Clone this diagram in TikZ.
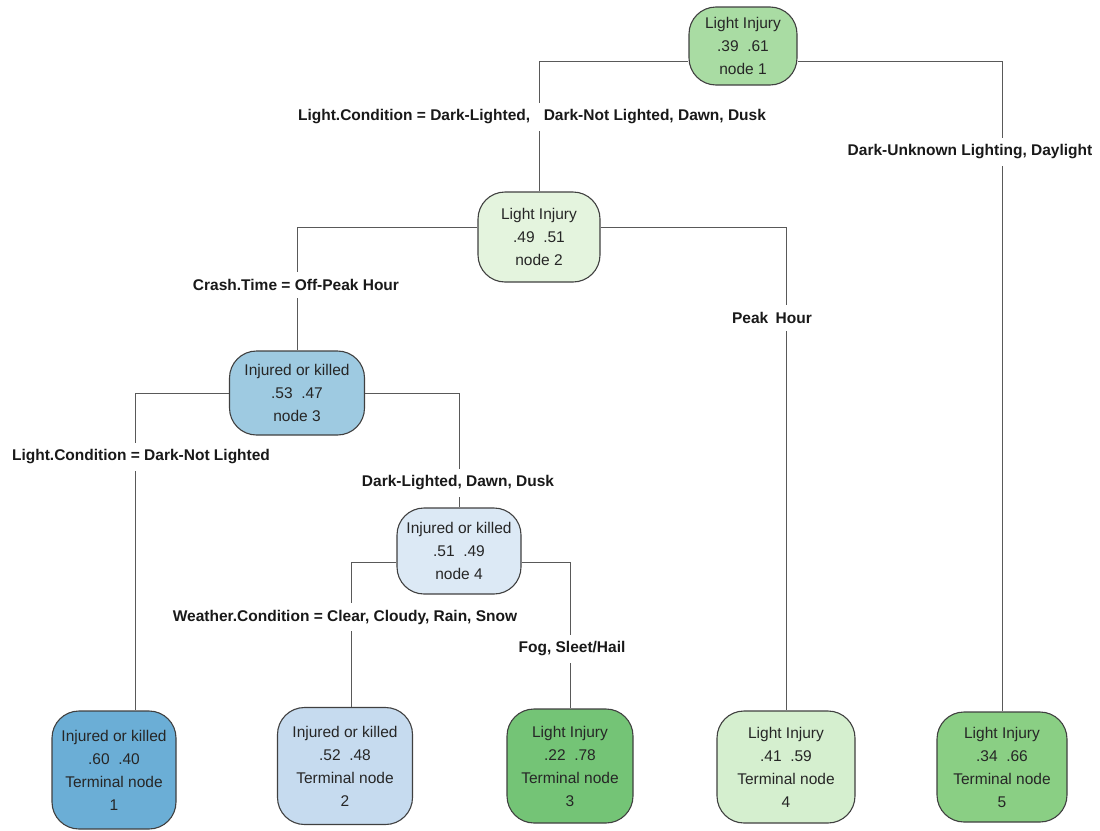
\documentclass[tikz,border=0pt]{standalone}
\usepackage{fontspec}
\setmainfont{Liberation Sans}
\definecolor{rootgreen}{HTML}{A9DCA3}
\definecolor{palegreen}{HTML}{E4F4DE}
\definecolor{midblue}{HTML}{9ECAE1}
\definecolor{paleblue}{HTML}{DCE9F5}
\definecolor{deepblue}{HTML}{6BAED6}
\definecolor{softblue}{HTML}{C6DBEF}
\definecolor{deepgreen}{HTML}{74C476}
\definecolor{softgreen}{HTML}{D5EFCF}
\definecolor{leafgreen}{HTML}{8ACF84}

\begin{document}
\begin{tikzpicture}[x=1pt, y=-1pt,
    box/.style={draw=black!75, line width=1.1pt, rounded corners=27pt, align=center,
        text=black!85, font=\fontsize{15.5}{23}\selectfont, inner sep=2pt},
    cut/.style={fill=white, font=\bfseries\fontsize{15.5}{18}\selectfont, text=black!90,
        inner xsep=3pt, inner ysep=7pt},
    branch/.style={draw=black!65, line width=0.9pt}]
    \useasboundingbox (0,0) rectangle (1100,830);

    % Split nodes
    \node[box, fill=rootgreen, minimum width=108pt, minimum height=78pt] (n1) at (743,46) {Light Injury\\.39~~.61\\node 1};
    \node[box, fill=palegreen, minimum width=122pt, minimum height=90pt] (n2) at (539,237) {Light Injury\\.49~~.51\\node 2};
    \node[box, fill=midblue, minimum width=135pt, minimum height=84pt] (n3) at (297,393) {Injured or killed\\.53~~.47\\node 3};
    \node[box, fill=paleblue, minimum width=124pt, minimum height=86pt] (n4) at (459,551) {Injured or killed\\.51~~.49\\node 4};

    % Terminal nodes
    \node[box, fill=deepblue, minimum width=124pt, minimum height=118pt] (t1) at (114,770) {Injured or killed\\.60~~.40\\Terminal node\\1};
    \node[box, fill=softblue, minimum width=135pt, minimum height=117pt] (t2) at (345,766) {Injured or killed\\.52~~.48\\Terminal node\\2};
    \node[box, fill=deepgreen, minimum width=126pt, minimum height=114pt] (t3) at (570,766) {Light Injury\\.22~~.78\\Terminal node\\3};
    \node[box, fill=softgreen, minimum width=138pt, minimum height=112pt] (t4) at (786,767) {Light Injury\\.41~~.59\\Terminal node\\4};
    \node[box, fill=leafgreen, minimum width=130pt, minimum height=110pt] (t5) at (1002,767) {Light Injury\\.34~~.66\\Terminal node\\5};

    % Branches
    \draw[branch] ([yshift=-15pt]n1.west) -| (n2.north);
    \draw[branch] ([yshift=-15pt]n1.east) -| (t5.north);
    \draw[branch] ([yshift=10pt]n2.west) -| (n3.north);
    \draw[branch] ([yshift=10pt]n2.east) -| (t4.north);
    \draw[branch] (n3.west) -| ([xshift=21pt]t1.north);
    \draw[branch] (n3.east) -| (n4.north);
    \draw[branch] ([yshift=-11pt]n4.west) -| ([xshift=6pt]t2.north);
    \draw[branch] ([yshift=-11pt]n4.east) -| (t3.north);

    % Split rules
    \node[cut] (c1) at (532,117) {Light.Condition = Dark-Lighted,\hspace{0.6em} Dark-Not Lighted, Dawn, Dusk};
    \node[cut] (c2) at (970,152) {Dark-Unknown Lighting, Daylight};
    \node[cut] (c3) at (296,285) {Crash.Time = Off-Peak Hour};
    \node[cut] (c4) at (772,318) {Peak\hspace{0.2em} Hour};
    \node[cut] (c5) at (141,457) {Light.Condition = Dark-Not Lighted};
    \node[cut] (c6) at (458,483) {Dark-Lighted, Dawn, Dusk};
    \node[cut] (c7) at (345,617) {Weather.Condition = Clear, Cloudy, Rain, Snow};
    \node[cut] (c8) at (572,649) {Fog, Sleet/Hail};
\end{tikzpicture}
\end{document}
